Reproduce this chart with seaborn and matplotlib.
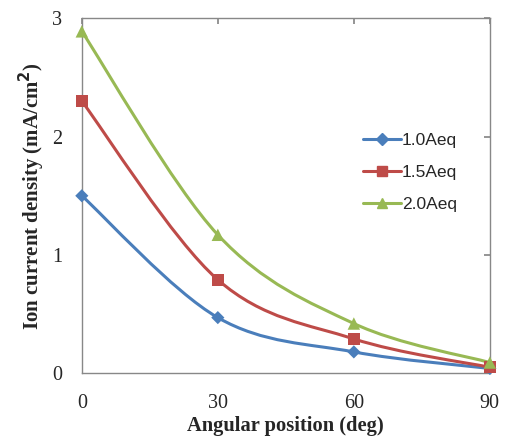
"""Ion current density vs angular position, Excel-style smoothed lines."""
import matplotlib
matplotlib.use("Agg")
import matplotlib.pyplot as plt
from matplotlib.path import Path
from matplotlib.patches import PathPatch
from matplotlib.lines import Line2D
import seaborn as sns
import pandas as pd

angles = [0, 30, 60, 90]
series_names = ["1.0Aeq", "1.5Aeq", "2.0Aeq"]
dens_10 = [1.50, 0.47, 0.18, 0.04]
dens_15 = [2.30, 0.79, 0.29, 0.05]
dens_20 = [2.89, 1.17, 0.42, 0.09]
colors = ["#4A7EBB", "#BE4B48", "#98B954"]
markers = ["D", "s", "^"]
msizes = [45, 80, 80]


def smooth_path(xs, ys):
    """Catmull-Rom style bezier path (like Excel's smoothed line)."""
    pts = list(zip(xs, ys))
    verts = [pts[0]]
    codes = [Path.MOVETO]
    n = len(pts)
    for i in range(n - 1):
        p0 = pts[i - 1] if i > 0 else pts[i]
        p1 = pts[i]
        p2 = pts[i + 1]
        p3 = pts[i + 2] if i + 2 < n else pts[i + 1]
        c1 = (p1[0] + (p2[0] - p0[0]) / 6, p1[1] + (p2[1] - p0[1]) / 6)
        c2 = (p2[0] - (p3[0] - p1[0]) / 6, p2[1] - (p3[1] - p1[1]) / 6)
        verts += [c1, c2, p2]
        codes += [Path.CURVE4] * 3
    return Path(verts, codes)


rows = []
for name, vals in zip(series_names, [dens_10, dens_15, dens_20]):
    for a, v in zip(angles, vals):
        rows.append({"angle": a, "density": v, "series": name})
dfrm = pd.DataFrame(rows)

sns.set_theme(style="white")
plt.rcParams["font.family"] = ["Liberation Serif", "DejaVu Serif"]

fig, ax = plt.subplots(figsize=(5.05, 4.37), dpi=100)
fig.subplots_adjust(left=0.162, right=0.970, top=0.958, bottom=0.146)

for name, col in zip(series_names, colors):
    sub = dfrm[dfrm["series"] == name]
    ax.add_patch(PathPatch(smooth_path(sub["angle"].tolist(), sub["density"].tolist()),
                           facecolor="none", edgecolor=col, lw=2.2, zorder=2))

sns.scatterplot(data=dfrm, x="angle", y="density", hue="series", style="series",
                palette=colors, markers=markers, size="series",
                sizes=dict(zip(series_names, msizes)), edgecolor="none",
                legend=False, ax=ax, zorder=3, clip_on=False)

ax.set_xlim(0, 90)
ax.set_ylim(0, 3)
ax.set_xticks(angles)
ax.set_yticks([0, 1, 2, 3])
ax.tick_params(direction="in", top=True, right=True, length=4, color="#888888",
               labelsize=14.5)
ax.tick_params(axis="x", pad=15)
ax.tick_params(axis="y", pad=14)
for sp in ax.spines.values():
    sp.set_color("#888888")
    sp.set_linewidth(1.0)
ax.set_xlabel("Angular position (deg)", fontsize=14.8, fontweight="bold", labelpad=2)
ax.set_ylabel("Ion current density (mA/cm$^\\mathbf{2}$)", fontsize=15,
              fontweight="bold", labelpad=4)

handles = [Line2D([0], [0], color=c, lw=2.2, marker=m, markersize=7.5 if m != "D" else 6,
                  markeredgecolor=c) for c, m in zip(colors, markers)]
leg = ax.legend(handles, series_names, loc="upper left", bbox_to_anchor=(0.65, 0.72),
                frameon=False, handlelength=2.2, handletextpad=0.05, labelspacing=0.95,
                prop={"family": "Liberation Sans", "size": 12.5})

fig.savefig("out.png", dpi=100)
